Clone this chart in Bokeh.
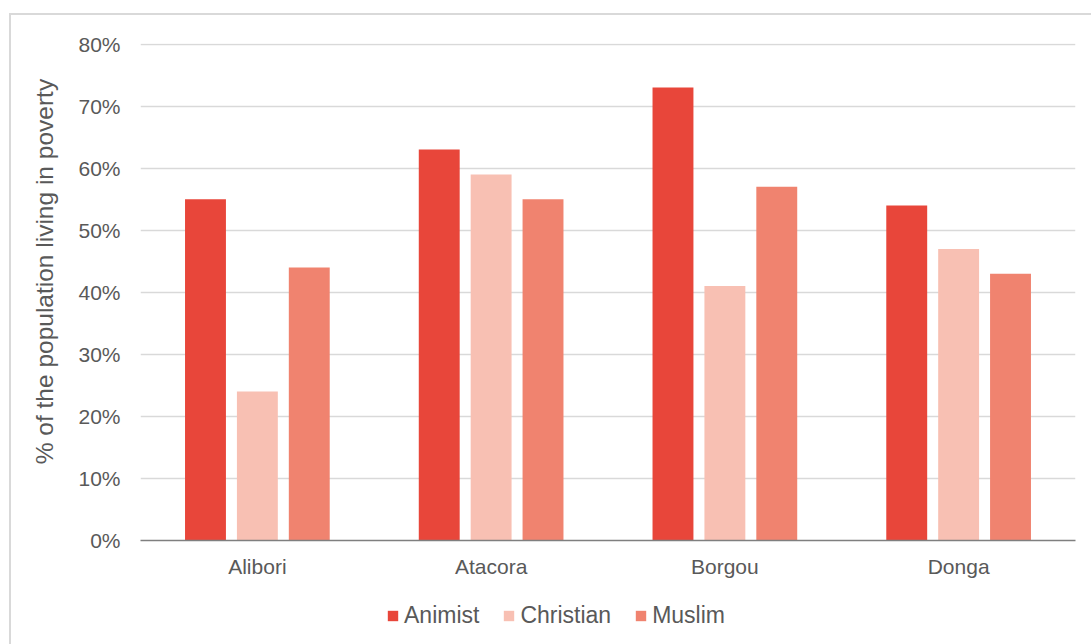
from bokeh.plotting import figure
from bokeh.layouts import column
from bokeh.models import ColumnDataSource, FactorRange, Range1d, FixedTicker, PrintfTickFormatter, Legend, LegendItem
from bokeh.transform import dodge
from bokeh.embed import file_html
from bokeh.resources import INLINE

regions = ["Alibori", "Atacora", "Borgou", "Donga"]
animist = [55, 63, 73, 54]
christian = [24, 59, 41, 47]
muslim = [44, 55, 57, 43]
series_names = ["Animist", "Christian", "Muslim"]
series_colors = ["#E8463A", "#F8C0B3", "#F0836F"]
y_ticks = [0, 10, 20, 30, 40, 50, 60, 70, 80]
y_title = "% of the population living in poverty"

src = ColumnDataSource(dict(region=regions, Animist=animist, Christian=christian, Muslim=muslim))

FONT = "Liberation Sans"
TXT = "#595959"

xr = FactorRange(*regions)
p = figure(x_range=xr, y_range=Range1d(0, 80.1),
           width=1080, height=575, output_backend="svg", toolbar_location=None,
           min_border_left=129, min_border_right=16, min_border_top=28, min_border_bottom=50)
p.outline_line_color = None
p.background_fill_color = "white"
p.border_fill_color = "white"

offsets = [-0.222, 0.0, 0.222]
for name, color, off in zip(series_names, series_colors, offsets):
    p.vbar(x=dodge("region", off, range=xr), top=name, width=0.175, source=src,
           fill_color=color, line_color=None)

p.yaxis.ticker = FixedTicker(ticks=y_ticks)
p.yaxis.formatter = PrintfTickFormatter(format="%d%%")
p.yaxis.axis_line_color = None
p.yaxis.major_tick_line_color = None
p.yaxis.minor_tick_line_color = None
p.yaxis.major_label_text_font = FONT
p.yaxis.major_label_text_font_size = "21px"
p.yaxis.major_label_text_color = TXT
p.yaxis.major_label_standoff = 14
p.yaxis.axis_label = "\u00a0" * 6 + y_title
p.yaxis.axis_label_text_font = FONT
p.yaxis.axis_label_text_font_size = "24.5px"
p.yaxis.axis_label_text_font_style = "normal"
p.yaxis.axis_label_text_color = TXT
p.yaxis.axis_label_standoff = 17

p.xaxis.axis_line_color = "#7f7f7f"
p.xaxis.axis_line_width = 1.5
p.xaxis.major_tick_line_color = None
p.xaxis.minor_tick_line_color = None
p.xaxis.major_label_text_font = FONT
p.xaxis.major_label_text_font_size = "21px"
p.xaxis.major_label_text_color = TXT
p.xaxis.major_label_standoff = 8

p.xgrid.grid_line_color = None
p.ygrid.grid_line_color = "#d9d9d9"
p.ygrid.grid_line_width = 1.5

# legend strip below the chart
p2 = figure(x_range=xr, y_range=Range1d(0, 1), width=1080, height=54,
            output_backend="svg", toolbar_location=None,
            x_axis_type=None, y_axis_type=None,
            min_border_left=0, min_border_right=0, min_border_top=0, min_border_bottom=0)
p2.outline_line_color = None
p2.background_fill_color = "white"
p2.border_fill_color = "white"
leg_renderers = []
for name, color, off in zip(series_names, series_colors, offsets):
    r = p2.vbar(x=dodge("region", off, range=xr), top=name, width=0.175, source=src,
                fill_color=color, line_color=None, visible=False)
    leg_renderers.append(r)

legend = Legend(items=[LegendItem(label=n, renderers=[r]) for n, r in zip(series_names, leg_renderers)],
                orientation="horizontal", location=(246, 15))
legend.border_line_color = None
legend.background_fill_alpha = 0
legend.inactive_fill_alpha = 0
legend.padding = 0
legend.margin = 0
legend.spacing = 23
legend.glyph_width = 13
legend.glyph_height = 13
legend.label_standoff = 5
legend.label_text_font = FONT
legend.label_text_font_size = "23px"
legend.label_text_color = TXT
p2.add_layout(legend, "center")

layout = column(p, p2, spacing=0)
layout.styles = {"margin-left": "9px", "margin-top": "13px",
                 "border-left": "2px solid #d9d9d9", "border-top": "2px solid #d9d9d9"}

open("out.html", "w").write(file_html(layout, INLINE))
